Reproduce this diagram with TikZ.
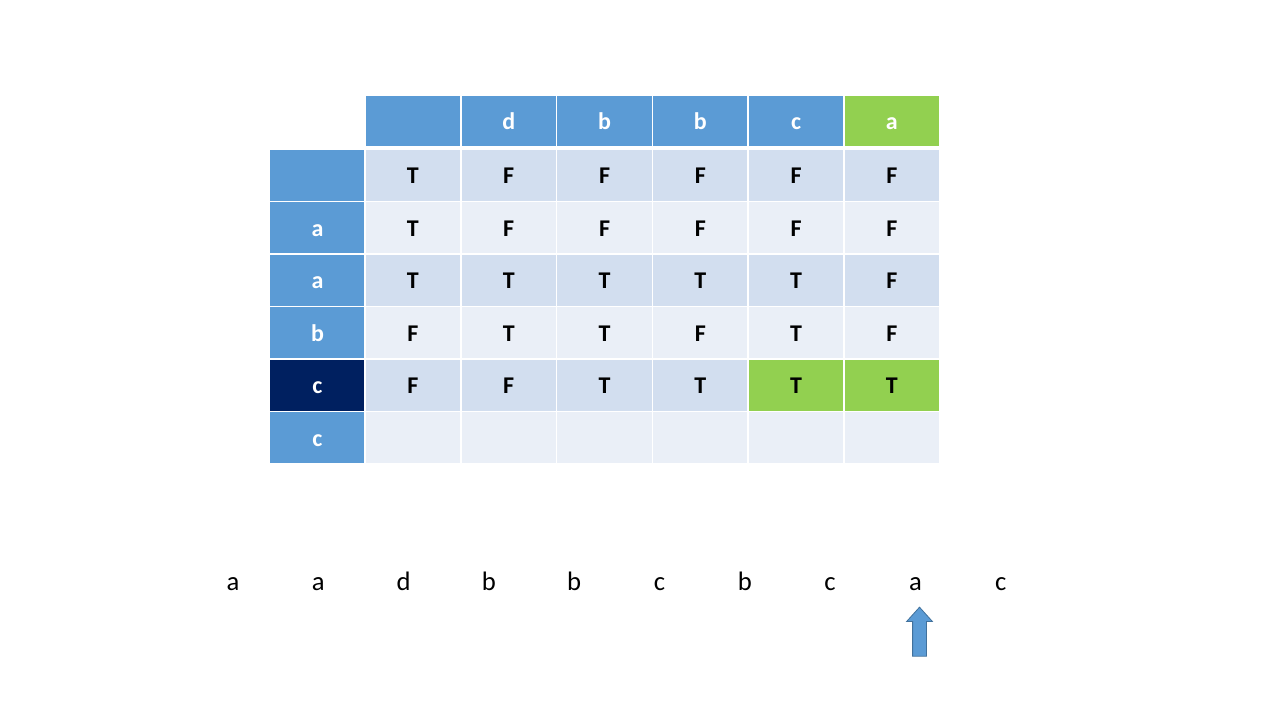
\documentclass[tikz,border=0pt]{standalone}
\usepackage{fontspec}
\setmainfont{Carlito}
\usetikzlibrary{shapes.arrows}
\definecolor{headblue}{HTML}{5B9BD5}
\definecolor{rowdark}{HTML}{D2DEEF}
\definecolor{rowlight}{HTML}{EAEFF7}
\definecolor{hit}{HTML}{92D050}
\definecolor{navy}{HTML}{002060}
\definecolor{arrowline}{HTML}{41719C}
\begin{document}
\begin{tikzpicture}[x=0.75pt, y=-0.75pt,
	every node/.style = {inner sep=0pt, outer sep=0pt},
	cell/.style = {shape=rectangle, draw=white, line width=1pt,
		minimum width=95.7*0.75pt, minimum height=52.5*0.75pt,
		text height=12.5pt, text depth=0pt,
		font=\fontsize{18}{20}\selectfont\bfseries},
	head/.style = {cell, fill=headblue, text=white},
	letter/.style = {anchor=base, font=\fontsize{20}{24}\selectfont}]
	\useasboundingbox (0,0) rectangle (1280,720);
	% column headers
	\foreach \t [count=\c] in {{},d,b,b,c}
		\node[head, minimum height=52*0.75pt] (top-\c) at ({365+95.8*(\c-0.5)},121) {\t};
	\node[head, fill=hit, minimum height=52*0.75pt] (top-6) at ({365+95.8*5.5},121) {a};
	% row headers
	\foreach \r/\t in {1/{},2/a,3/a,4/b,6/c}
		\node[head] (side-\r) at (317.5,{175.25+52.5*(\r-1)}) {\t};
	\node[head, fill=navy] (side-5) at (317.5,{175.25+52.5*4}) {c};
	% table body
	\foreach \r/\shade/\vals in {1/rowdark/{T,F,F,F,F,F}, 2/rowlight/{T,F,F,F,F,F},
		3/rowdark/{T,T,T,T,T,F}, 4/rowlight/{F,T,T,F,T,F}, 6/rowlight/{{},{},{},{},{},{}}}
		\foreach \v [count=\c] in \vals
			\node[cell, fill=\shade] (cell-\r-\c) at ({365+95.8*(\c-0.5)},{175.25+52.5*(\r-1)}) {\v};
	\foreach \v/\f [count=\c] in {F/rowdark,F/rowdark,T/rowdark,T/rowdark,T/hit,T/hit}
		\node[cell, fill=\f] (cell-5-\c) at ({365+95.8*(\c-0.5)},{175.25+52.5*4}) {\v};
	% the string
	\foreach \t [count=\i] in {a,a,d,b,b,c,b,c,a,c}
		\node[letter] (l\i) at ({233+85.3*(\i-1)},590) {\t};
	\node[single arrow, draw=arrowline, line width=0.6pt, fill=headblue, rotate=90,
		inner ysep=6.5*0.75pt, minimum height=49*0.75pt, minimum width=25*0.75pt,
		single arrow head extend=6*0.75pt, single arrow tip angle=84] (ptr) at (919.5,635.5) {};
\end{tikzpicture}
\end{document}
